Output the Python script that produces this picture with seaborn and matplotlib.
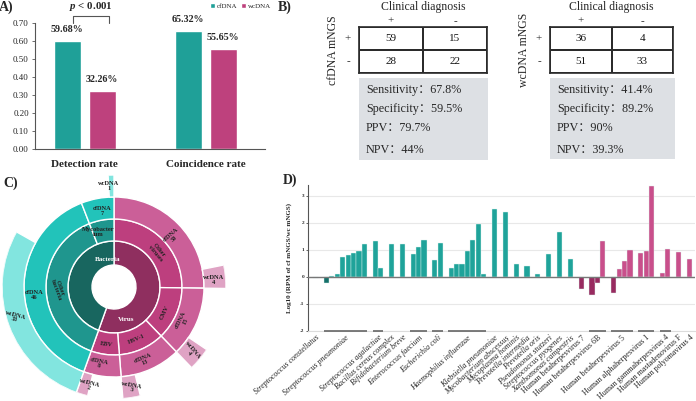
import numpy as np
import pandas as pd
import seaborn as sns
import matplotlib.pyplot as plt
from matplotlib.colors import ListedColormap

sns.set_style('white')
plt.rcParams['font.family'] = ['Liberation Serif', 'Noto Sans CJK SC']
plt.rcParams['mathtext.fontset'] = 'custom'
plt.rcParams['mathtext.it'] = 'Liberation Serif:bold:italic'
plt.rcParams['mathtext.rm'] = 'Liberation Serif:bold'

W, H = 696, 401


def box(x0, y0, x1, y1):
    # pixel box (top-left origin) -> figure rect
    return [x0 / W, 1 - y1 / H, (x1 - x0) / W, (y1 - y0) / H]


TEAL = '#1fa098'
MAG = '#be417d'

# ---------------- data ----------------
# A) detection / coincidence
rate_names = ['Detection rate', 'Coincidence rate']
cf_rates = [0.5968, 0.6532]
wc_rates = [0.3226, 0.5565]

# B) 2x2 tables vs clinical diagnosis
cf_table = [[59, 15], [28, 22]]
wc_table = [[36, 4], [51, 33]]
cf_stats = ['Sensitivity：67.8%', 'Specificity：59.5%', 'PPV：79.7%', 'NPV：44%']
wc_stats = ['Sensitivity：41.4%', 'Specificity：89.2%', 'PPV：90%', 'NPV：39.3%']

# C) sunburst (clockwise from 12 o'clock)
kingdoms = ['Virus', 'Bacteria']
taxa = ['Other viruses', 'CMV', 'HSV-1', 'EBV', 'Other bacteria', 'Mycobacterium']
taxa_kingdom = ['Virus', 'Virus', 'Virus', 'Virus', 'Bacteria', 'Bacteria']
cf_counts = [30, 15, 13, 8, 46, 7]
wc_counts = [4, 4, 3, 2, 33, 1]

# D) log10 RPM ratio per sample, grouped by species
species = ['Streptococcus constellatus', 'Streptococcus pneumoniae', 'Streptococcus agalactiae',
           'Bacillus cereus complex', 'Bifidobacterium breve', 'Enterococcus faecium',
           'Escherichia coli', 'Haemophilus influenzae', 'Klebsiella pneumoniae',
           'Mycobacterium abscessus', 'Mycoplasma hominis', 'Prevotella intermedia',
           'Prevotella oris', 'Pseudomonas stutzeri', 'Streptococcus pyogenes',
           'Xanthomonas campestris', 'Human betaherpesvirus 7', 'Human betaherpesvirus 6B',
           'Human betaherpesvirus 5', 'Human alphaherpesvirus 1', 'Human gammaherpesvirus 4',
           'Human mastadenovirus F', 'Human polyomavirus 4']
n_bacteria = 16
log_ratios = [[-0.05], [-0.22, 0.03, 0.10, 0.73, 0.80, 0.88, 0.95, 1.20], [1.32, 0.33],
              [1.20], [1.22], [0.86, 1.11, 1.37],
              [0.61, 1.26], [0.32, 0.47, 0.48, 0.97, 1.37, 1.95, 0.10], [2.50],
              [2.39], [0.49], [0.40],
              [0.11], [0.83], [1.65],
              [0.67], [-0.45], [-0.66, -0.21, 1.34],
              [-0.61, 0.28, 0.59, 1.01], [0.88, 0.95, 3.37], [0.15, 1.04],
              [0.94], [0.66]]

fig = plt.figure(figsize=(W / 100, H / 100), dpi=100)

# ---------------- A ----------------
axa = fig.add_axes(box(35, 22.7, 265, 149))
df_a = pd.DataFrame({'metric': rate_names * 2,
                     'rate': cf_rates + wc_rates,
                     'sample': ['cfDNA'] * 2 + ['wcDNA'] * 2})
sns.barplot(data=df_a, x='metric', y='rate', hue='sample', palette=[TEAL, MAG],
            width=0.58, gap=0.23, errorbar=None, saturation=1, ax=axa)
axa.set_xlim(-0.41, 1.49)
axa.set_ylim(0, 0.70)
axa.set_yticks(np.arange(0, 0.71, 0.1))
axa.set_yticklabels([f'{v:.2f}' for v in np.arange(0, 0.71, 0.1)], fontsize=6.5)
axa.tick_params(axis='y', length=2.5, width=0.6, color='#555', pad=2, left=True)
axa.tick_params(axis='x', length=0, pad=8)
for lab in axa.get_xticklabels():
    lab.set_fontweight('bold')
    lab.set_fontsize(8)
axa.set_xlabel('')
axa.set_ylabel('')
sns.despine(ax=axa)
for s in ['left', 'bottom']:
    axa.spines[s].set_color('#555')
    axa.spines[s].set_linewidth(0.8)
for cont in axa.containers:
    axa.bar_label(cont, labels=[f'{b.get_height() * 100:.2f}%' for b in cont],
                  padding=5, fontsize=7.2, fontweight='bold')
leg = axa.legend(loc='center right', bbox_to_anchor=(1.04, 1.13), ncol=2, frameon=False,
                 fontsize=5, handlelength=0.7, handleheight=0.7, columnspacing=0.5,
                 handletextpad=0.3, borderpad=0)
# significance bracket between the detection-rate bars
p_cf = axa.containers[0][0]
p_wc = axa.containers[1][0]
x1 = p_cf.get_x() + p_cf.get_width() / 2 + 0.05
x2 = p_wc.get_x() + p_wc.get_width() / 2 + 0.06
axa.plot([x1, x1, x2, x2], [0.698, 0.737, 0.737, 0.698], color='#555', lw=0.8, clip_on=False)
axa.text((x1 + x2) / 2, 0.79, r'$p$ < 0.001', ha='center', va='center',
         fontsize=7.8, fontweight='bold')

# ---------------- B ----------------
def draw_table(rect, table, name, stats, grey_rect):
    ax = fig.add_axes(box(*rect))
    df = pd.DataFrame(table, index=['+', '-'], columns=['+', '-'])
    sns.heatmap(df, annot=True, fmt='d', cbar=False, cmap=ListedColormap(['white']),
                linewidths=1.2, linecolor='#2b2b2b',
                annot_kws={'fontsize': 8, 'color': '#111'}, ax=ax)
    ax.xaxis.tick_top()
    ax.tick_params(length=0, labelsize=8, pad=1)
    ax.tick_params(axis='y', pad=6)
    ax.set_yticklabels(['+', '-'], rotation=0)
    ax.set_xlabel('')
    ax.set_ylabel(name, fontsize=8.5, labelpad=4)
    ax.text(0.5, 1.44, 'Clinical diagnosis', transform=ax.transAxes,
            ha='center', va='center', fontsize=8.5)
    for s in ax.spines.values():
        s.set_visible(True)
        s.set_linewidth(1.2)
        s.set_color('#2b2b2b')
    gx = fig.add_axes(box(*grey_rect))
    gx.set_facecolor('#dde0e4')
    gx.set_xticks([])
    gx.set_yticks([])
    for s in gx.spines.values():
        s.set_visible(False)
    gh = grey_rect[3] - grey_rect[1]
    for txt, yy in zip(stats, [12, 31, 50, 72]):
        gx.text(7 / (grey_rect[2] - grey_rect[0]), 1 - yy / gh, txt,
                transform=gx.transAxes, ha='left', va='center', fontsize=8.7)


draw_table((359, 27, 487, 73), cf_table, 'cfDNA mNGS', cf_stats, (359, 78, 488, 160))
draw_table((550, 27, 673, 73), wc_table, 'wcDNA mNGS', wc_stats, (550, 78, 675, 159))

# ---------------- C ----------------
axc = fig.add_axes(box(2, 175, 226, 399), projection='polar')
axc.set_theta_zero_location('N')
axc.set_theta_direction(-1)
axc.set_ylim(0, 112)
axc.axis('off')

ring = {'kingdom': (22, 46), 'taxon': (46, 68), 'cf': (68, 90), 'wc': (90, 112)}
col = {'Bacteria': ['#18665f', '#1f968e', '#22c3ba', '#82e5df'],
       'Virus': ['#8f2f5f', '#bd3f7e', '#cb5f98', '#dfa3c4']}
deg = 360 / sum(cf_counts)
starts = np.concatenate([[0], np.cumsum(cf_counts)[:-1]]) * deg
widths = np.array(cf_counts) * deg
wc_align = ['end', 'end', 'end', 'end', 'start', 'end']

kw = dict(align='edge', edgecolor='white', linewidth=1)
for k in kingdoms:
    idx = [i for i, t in enumerate(taxa_kingdom) if t == k]
    r0, r1 = ring['kingdom']
    axc.bar(np.radians(starts[idx[0]]), r1 - r0, width=np.radians(widths[idx].sum()),
            bottom=r0, color=col[k][0], **kw)
for i, k in enumerate(taxa_kingdom):
    for j, key in enumerate(['taxon', 'cf']):
        r0, r1 = ring[key]
        axc.bar(np.radians(starts[i]), r1 - r0, width=np.radians(widths[i]), bottom=r0,
                color=col[k][j + 1], **kw)
    ww = wc_counts[i] * deg
    s0 = starts[i] + widths[i] - ww if wc_align[i] == 'end' else starts[i]
    r0, r1 = ring['wc']
    axc.bar(np.radians(s0), r1 - r0, width=np.radians(ww), bottom=r0,
            color=col[k][3], **kw)

lab_kw = dict(ha='center', va='center', fontsize=4.6, fontweight='bold', color='#222',
              linespacing=1.0)
axc.text(np.radians(346), 28, 'Bacteria', **{**lab_kw, 'color': 'white', 'fontsize': 5})
axc.text(np.radians(160), 35, 'Virus', **{**lab_kw, 'color': 'white', 'fontsize': 5})
taxa_labels = ['Other\nviruses', 'CMV', 'HSV-1', 'EBV', 'Other\nbacteria', 'Mycobacter\nium']
taxa_pos = [(51, 56, -50), (117, 57, 65), (157, 57, 23), (187, 58, -7), (268, 56, -70),
            (344, 57, 0)]
for t, (th, r, rot) in zip(taxa_labels, taxa_pos):
    axc.text(np.radians(th), r, t, rotation=rot, **lab_kw)
cf_pos = [(49, 77, 41), (116, 77, 64), (158, 79, 22), (191, 78, -11), (264, 80, 0),
          (351, 77, 0)]
for n, (th, r, rot) in zip(cf_counts, cf_pos):
    axc.text(np.radians(th), r, f'cfDNA\n{n}', rotation=rot, **lab_kw)
wc_pos = [(86, 100, 0), (130, 101, -50), (170, 102, -10), (194, 102, -14), (253, 104, -15),
          (357, 101, 0)]
for n, (th, r, rot) in zip(wc_counts, wc_pos):
    axc.text(np.radians(th), r, f'wcDNA\n{n}', rotation=rot, **lab_kw)

# ---------------- D ----------------
axd = fig.add_axes(box(308, 185, 695, 331))
rows, centers, spans = [], [], []
slot = 0
for i, vals in enumerate(log_ratios):
    kind = 'virus' if i >= n_bacteria else 'bact'
    start = slot
    for v in vals:
        rows.append({'slot': slot, 'value': v, 'kind': kind + ('_neg' if v < 0 else '_pos')})
        slot += 1
    centers.append((start + slot - 1) / 2)
    spans.append((start, slot - 1))
    slot += 1
df_d = pd.DataFrame(rows)
pal = {'bact_pos': '#1fa39a', 'bact_neg': '#15706a',
       'virus_pos': '#c94f8b', 'virus_neg': '#982b60'}
axd.yaxis.grid(True, color='#e8e8e8', lw=0.8)
axd.set_axisbelow(True)
sns.barplot(data=df_d, x='slot', y='value', hue='kind', palette=pal, native_scale=True,
            dodge=False, width=0.95, errorbar=None, legend=False, saturation=1,
            edgecolor='#dff3f0', linewidth=0.3, ax=axd)
axd.axhline(0, color='#777', lw=1, zorder=3)
axd.set_xlim(-1.4, slot - 1 + 0.0)
axd.set_ylim(-2, 3.4)
axd.set_yticks([-2, -1, 0, 1, 2, 3])
axd.set_yticklabels(['-2', '-1', '0', '1', '2', '3'], fontsize=3.8, fontweight='bold')
axd.tick_params(axis='y', length=1.5, width=0.5, pad=1, left=True)
axd.set_xticks(centers)
axd.set_xticklabels(species, rotation=42, ha='right', rotation_mode='anchor', fontsize=5.8)
for i, lab in enumerate(axd.get_xticklabels()):
    if i < n_bacteria:
        lab.set_fontstyle('italic')
axd.tick_params(axis='x', length=0, pad=2)
axd.set_xlabel('')
axd.set_ylabel('Log10 (RPM of cf mNGS/wc mNGS)', fontsize=5, fontweight='bold', labelpad=6)
sns.despine(ax=axd)
axd.spines['left'].set_color('#555')
axd.spines['left'].set_linewidth(0.8)
axd.spines['bottom'].set_color('#dcdcdc')
axd.spines['bottom'].set_linewidth(0.8)
for a, b in spans:
    if b > a:
        axd.hlines(-2, a - 0.5, b + 0.5, color='#666', lw=1.2, clip_on=False, zorder=4)

# ---------------- panel letters ----------------
for letter, (px, py) in {'A)': (-1, 7), 'B)': (278, 7), 'C)': (3, 183), 'D)': (283, 180)}.items():
    fig.text(px / W, 1 - py / H, letter, fontsize=10, fontweight='bold', ha='left', va='center')

fig.savefig('out.png', dpi=100)
